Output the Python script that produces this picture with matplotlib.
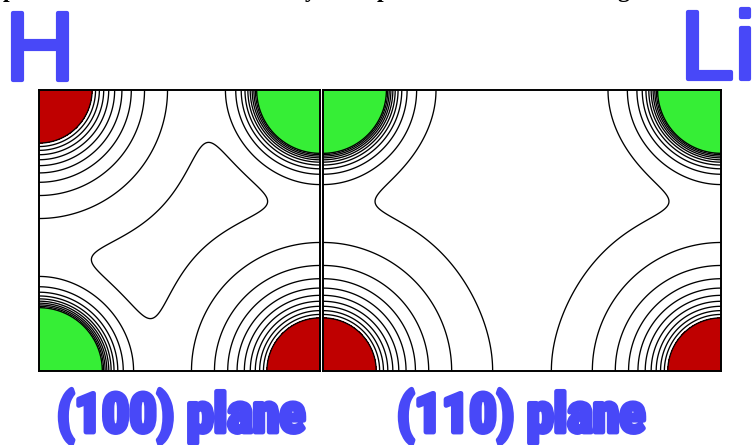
import itertools
import numpy as np
import matplotlib
matplotlib.use("Agg")
import matplotlib.pyplot as plt
import matplotlib.patheffects as pe

# Rock-salt LiH: lattice constant in Angstrom
lattice_a = 4.084

# Spherical atomic densities rho(r) = amp * exp(-r / decay), r in Angstrom
species = ["Li", "H"]
amp = {"Li": 1572.0, "H": 51.3}
decay = {"Li": 0.0908, "H": 0.236}

# Contour levels (arbitrary units); the core regions above the top level are filled
contour_levels = [0.33, 1, 2, 3, 4, 5, 6, 7, 8, 9, 10]
core_level = 10
core_colors = {"Li": "#36ee36", "H": "#bf0000"}

plane_labels = ["(100) plane", "(110) plane"]
atom_labels = ["H", "Li"]
label_blue = "#4848f8"


def plane_density(origin, e1, e2, w1, w2, n1, n2):
    """Sum of atomic densities on a rectangular patch of a lattice plane."""
    s = np.linspace(0.0, w1, n1)
    t = np.linspace(0.0, w2, n2)
    S, T = np.meshgrid(s, t)
    origin, e1, e2 = (np.asarray(v, float) for v in (origin, e1, e2))
    P = origin[:, None, None] + e1[:, None, None] * S + e2[:, None, None] * T
    rho = {sp: np.zeros_like(S) for sp in species}
    for i, j, k in itertools.product(range(-2, 4), repeat=3):
        site = 0.5 * np.array([i, j, k], float)
        sp = "Li" if (i + j + k) % 2 == 0 else "H"
        d = np.sqrt(((P - site[:, None, None]) ** 2).sum(axis=0)) * lattice_a
        rho[sp] += amp[sp] * np.exp(-d / decay[sp])
    return S * lattice_a, T * lattice_a, rho


def draw_plane(ax, X, Y, rho):
    total = rho["Li"] + rho["H"]
    for sp in species:
        other = [o for o in species if o != sp][0]
        core = np.ma.masked_where(rho[sp] < rho[other], total)
        ax.contourf(X, Y, core, levels=[core_level, total.max() * 2],
                    colors=[core_colors[sp]])
    ax.contour(X, Y, total, levels=contour_levels, colors="black",
               linewidths=0.95)
    ax.set_xlim(X.min(), X.max())
    ax.set_ylim(Y.min(), Y.max())
    ax.set_xticks([])
    ax.set_yticks([])
    for sp_ in ax.spines.values():
        sp_.set_linewidth(1.4)


W, H = 752, 445
fig = plt.figure(figsize=(W / 100, H / 100), dpi=100)

# (100) plane: square of side a/2 with Li at the origin
ax1 = fig.add_axes([39 / W, (H - 371) / H, 281 / W, 281 / H])
X, Y, rho = plane_density([0, 0, 0], [1, 0, 0], [0, 1, 0], 0.5, 0.5, 500, 500)
draw_plane(ax1, X, Y, rho)

# (110) plane: a/sqrt(2) along [110], a/2 along [001], H at the origin
ax2 = fig.add_axes([323 / W, (H - 371) / H, 398 / W, 281 / H])
r2 = 1 / np.sqrt(2)
X, Y, rho = plane_density([0.5, 0, 0], [r2, r2, 0], [0, 0, 1], r2, 0.5, 700, 500)
draw_plane(ax2, X, Y, rho)

# Atom labels above the panels
big = dict(family=["Liberation Sans"], color=label_blue,
           fontsize=70, va="baseline",
           path_effects=[pe.withStroke(linewidth=3, foreground=label_blue)])
fig.text(5 / W, (H - 80) / H, atom_labels[0], ha="left", **big)
fig.text(680 / W, (H - 79) / H, atom_labels[1], ha="left", **big)

# Plane labels below the panels
lab = dict(family=["Roboto Condensed", "Liberation Sans"], color=label_blue,
           fontsize=39, fontweight="bold", va="baseline",
           path_effects=[pe.withStroke(linewidth=3.5, foreground=label_blue)])
fig.text(57 / W, (H - 432) / H, plane_labels[0], ha="left", **lab)
fig.text(397 / W, (H - 432) / H, plane_labels[1], ha="left", **lab)

# Caption line running off the top edge
cap = dict(family="Liberation Serif", fontweight="bold", fontsize=17,
           color="black", va="baseline")
for x, ch in [(3, "p"), (305, "y"), (377, "p"), (617, "g")]:
    fig.text(x / W, (H + 3) / H, ch, ha="left", **cap)

fig.savefig("out.png", dpi=100)
